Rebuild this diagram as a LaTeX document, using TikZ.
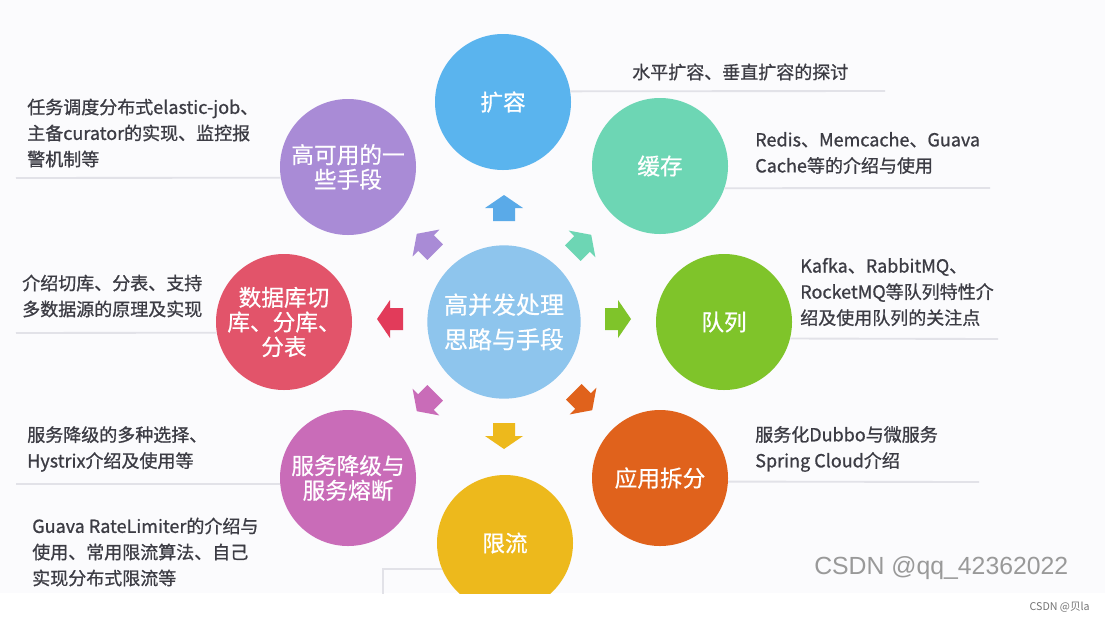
\documentclass[tikz,border=0pt]{standalone}
\usepackage{fontspec}
\setmainfont{Noto Sans CJK SC}
\newfontfamily\wmfont{Liberation Sans}
\newfontfamily\lblfont[FakeBold=0.9]{Noto Sans CJK SC}
\newfontfamily\bubfont[FakeBold=0.6]{Noto Sans CJK SC}
\definecolor{bgc}{HTML}{FBFBFD}
\definecolor{txtc}{HTML}{3C3C44}
\definecolor{rulec}{HTML}{E2E2E8}
\definecolor{cblue}{HTML}{5AB4EE}
\definecolor{cteal}{HTML}{6DD6B4}
\definecolor{cpurple}{HTML}{A98BD6}
\definecolor{cred}{HTML}{E2546A}
\definecolor{ccenter}{HTML}{8EC5ED}
\definecolor{cgreen}{HTML}{7FC42A}
\definecolor{corange}{HTML}{E0621C}
\definecolor{cmagenta}{HTML}{C96CB8}
\definecolor{cyellow}{HTML}{EDB91C}
\definecolor{ared}{HTML}{E23B5A}
\definecolor{ablue}{HTML}{5AAAE8}
\newcommand\blockarr[4]{\fill[#4, shift={(#1,#2)}, rotate=#3] (-13,-11) -- (0,-11) -- (0,-19) -- (13,0) -- (0,19) -- (0,11) -- (-13,11) -- cycle;}
\begin{document}
\begin{tikzpicture}[x=0.75pt, y=-0.75pt,
  bub/.style={circle, minimum size=102pt, inner sep=0pt, text=white, align=center,
    font=\bubfont\fontsize{17}{18.5}\selectfont},
  lbl/.style={anchor=west, align=left, text=txtc, inner sep=0pt,
    font=\lblfont\fontsize{13.5}{19.5}\selectfont},
  rule/.style={draw=rulec, line width=1.4pt}]
\useasboundingbox (0,0) rectangle (1105,622);
\fill[white] (0,0) rectangle (1105,622);
\fill[bgc] (0,0) rectangle (1105,593);
\begin{scope}
\clip (0,0) rectangle (1105,593);
% bubbles
\node[bub, fill=cblue] (kr) at (503,102) {扩容};
\node[bub, fill=cteal] (hc) at (660,166) {缓存};
\node[bub, fill=cpurple] (gk) at (348,167) {高可用的一\\些手段};
\node[bub, fill=cred] (sj) at (284,322) {数据库切\\库、分库、\\分表};
\node[bub, fill=ccenter, minimum size=115pt, font=\bubfont\fontsize{18}{26}\selectfont] (c) at (504,322) {高并发处理\\思路与手段};
\node[bub, fill=cgreen] (dl) at (724,322) {队列};
\node[bub, fill=corange] (yy) at (660,478) {应用拆分};
\node[bub, fill=cmagenta] (fw) at (348,478) {服务降级与\\服务熔断};
\node[bub, fill=cyellow] (xl) at (505,543) {限流};
% block arrows
\blockarr{504}{208}{90}{ablue}
\blockarr{582}{244}{45}{cteal}
\blockarr{618}{319}{0}{cgreen}
\blockarr{583}{401}{-45}{corange}
\blockarr{504}{436}{-90}{cyellow}
\blockarr{426}{402}{-135}{cmagenta}
\blockarr{390}{319}{180}{ared}
\blockarr{426}{243}{135}{cpurple}
% rules
\coordinate (ekr) at (885,91);
\coordinate (ehc) at (990,188);
\coordinate (edl) at (998,339);
\coordinate (eyy) at (979,482);
\coordinate (egk) at (16,178);
\coordinate (esj) at (16,333);
\coordinate (efw) at (16,484);
\coordinate (exl) at (383,600);
\draw[rule] (kr.9) -- (ekr);
\draw[rule] (hc.-19) -- (ehc);
\draw[rule] (dl.-14) -- (edl);
\draw[rule] (yy.-3) -- (eyy);
\draw[rule] (gk.189) -- (egk);
\draw[rule] (sj.189) -- (esj);
\draw[rule] (fw.185) -- (efw);
\draw[rule] (xl.202) -| (exl);
\end{scope}
% labels
\node[lbl] (tkr) at (632,72) {水平扩容、垂直扩容的探讨};
\node[lbl] (thc) at (755,153) {Redis、Memcache、Guava\\Cache等的介绍与使用};
\node[lbl] (tdl) at (800,292) {Kafka、RabbitMQ、\\RocketMQ等队列特性介\\绍及使用队列的关注点};
\node[lbl] (tyy) at (755,449) {服务化Dubbo与微服务\\Spring Cloud介绍};
\node[lbl] (tgk) at (27,133) {任务调度分布式elastic-job、\\主备curator的实现、监控报\\警机制等};
\node[lbl] (tsj) at (22,296) {介绍切库、分表、支持\\多数据源的原理及实现};
\node[lbl] (tfw) at (27,449) {服务降级的多种选择、\\Hystrix介绍及使用等};
\node[lbl] (txl) at (32,552) {Guava RateLimiter的介绍与\\使用、常用限流算法、自己\\实现分布式限流等};
% watermarks
\node[anchor=west, inner sep=0pt, text=black!40, font=\wmfont\fontsize{18.6}{20}\selectfont] (wm) at (814,568) {CSDN @qq\_42362022};
\node[anchor=east, inner sep=0pt, text=black!55, font=\fontsize{8}{9}\selectfont] (wm2) at (1090,607) {CSDN @贝la};
\end{tikzpicture}
\end{document}
